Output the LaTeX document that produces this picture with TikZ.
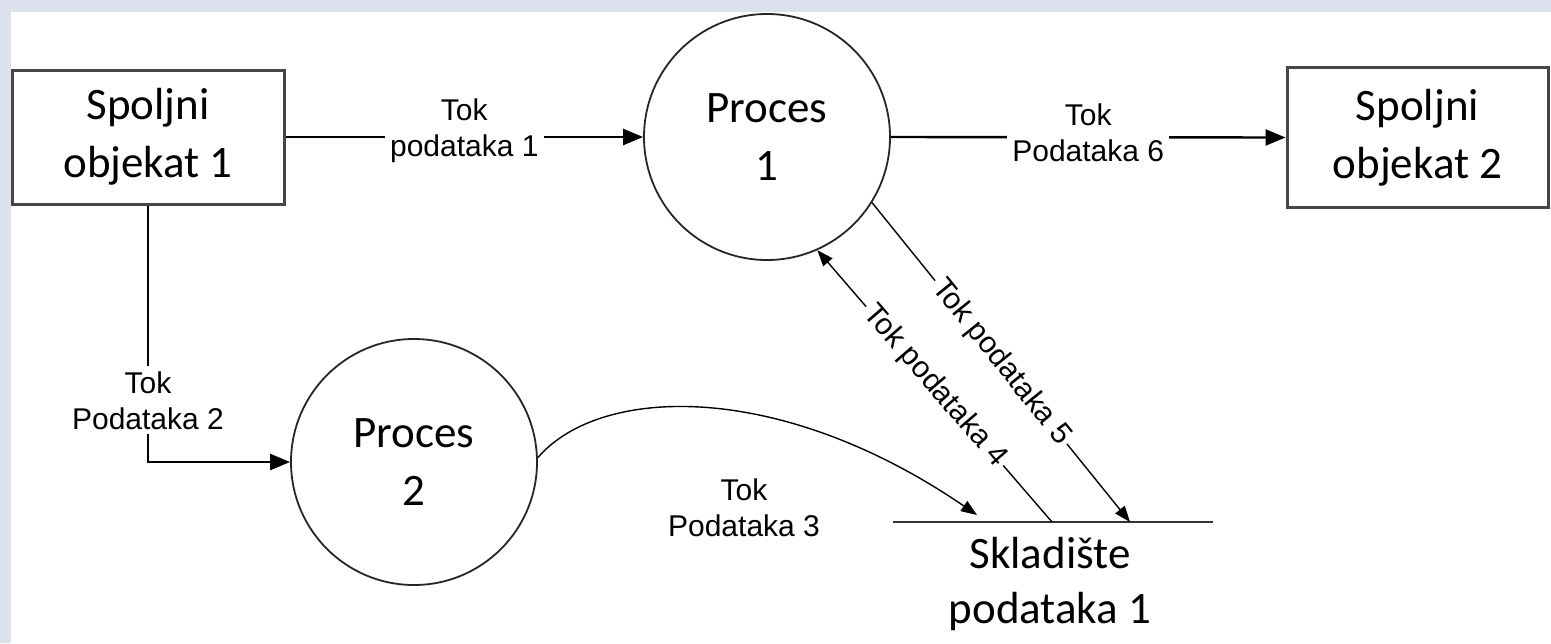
\documentclass[tikz,border=0pt]{standalone}
\usepackage{fontspec}
\setmainfont{Carlito}
\newfontfamily\labfont{Liberation Sans}
\usetikzlibrary{arrows.meta}
\definecolor{frame}{RGB}{220,225,238}
\definecolor{boxline}{RGB}{70,70,70}

\begin{document}
\begin{tikzpicture}[x=0.5pt,y=-0.5pt,
  entity/.style={draw=boxline,line width=1.5pt,inner sep=0pt,align=center,
    font=\fontsize{22.5}{29}\selectfont},
  proc/.style={circle,draw=black!85,line width=0.9pt,minimum size=123pt,
    inner sep=0pt,align=center,font=\fontsize{22.5}{29}\selectfont},
  storetext/.style={align=center,font=\fontsize{22.5}{27.5}\selectfont},
  flowlabel/.style={font=\labfont\fontsize{15}{18}\selectfont,align=center,
    fill=white,inner sep=2.5pt},
  mainflow/.style={line width=1.2pt,-{Triangle[length=10pt,width=8pt]}},
  storeflow/.style={line width=0.7pt,-{Triangle[length=8pt,width=6pt]}}]

% page frame
\fill[frame] (0,0) rectangle (1551,643);
\fill[white] (11,12) rectangle (1551,643);
\useasboundingbox (0,0) rectangle (1551,643);

% external entities
\node[entity,minimum width=136pt,minimum height=67pt] (b1) at (148,137)
  {Spoljni\\objekat 1};
\node[entity,minimum width=130.5pt,minimum height=70pt] (b2) at (1417.5,137.5)
  {Spoljni\\objekat 2};

% processes
\node[proc] (p1) at (767,137) {Proces\\1};
\node[proc] (p2) at (414,462) {Proces\\2};

% data store
\coordinate (stl) at (893,522);
\coordinate (str) at (1213,522);
\draw[line width=1.2pt,draw=black!80] (stl) -- (str);
\node[storetext] (st) at (1050,584) {Skladište\\podataka 1};
\coordinate (s3) at (977,515);
\coordinate (s4) at (1052,522);
\coordinate (s5) at (1130,522);

% data flows
\draw[mainflow] (b1.east) -- node[flowlabel,yshift=3pt] {Tok\\podataka 1} (p1.west);
\draw[mainflow] (p1.east) -- node[flowlabel,yshift=2pt] {Tok\\Podataka 6} (b2.west);
\draw[mainflow] (b1.south) |- node[flowlabel,pos=0.38] {Tok\\Podataka 2} (p2.west);
\draw[storeflow] (p2.2) .. controls (600,385) and (780,380) .. (s3);
\node[font=\labfont\fontsize{15}{18}\selectfont,align=center] (l3) at (744,508)
  {Tok\\Podataka 3};
\draw[storeflow] (s4) -- node[flowlabel,sloped,inner sep=1.5pt] {Tok podataka 4} (p1.-66.7);
\draw[storeflow] (p1.-32.2) -- node[flowlabel,sloped,inner sep=1.5pt] {Tok podataka 5} (s5);
\end{tikzpicture}
\end{document}
